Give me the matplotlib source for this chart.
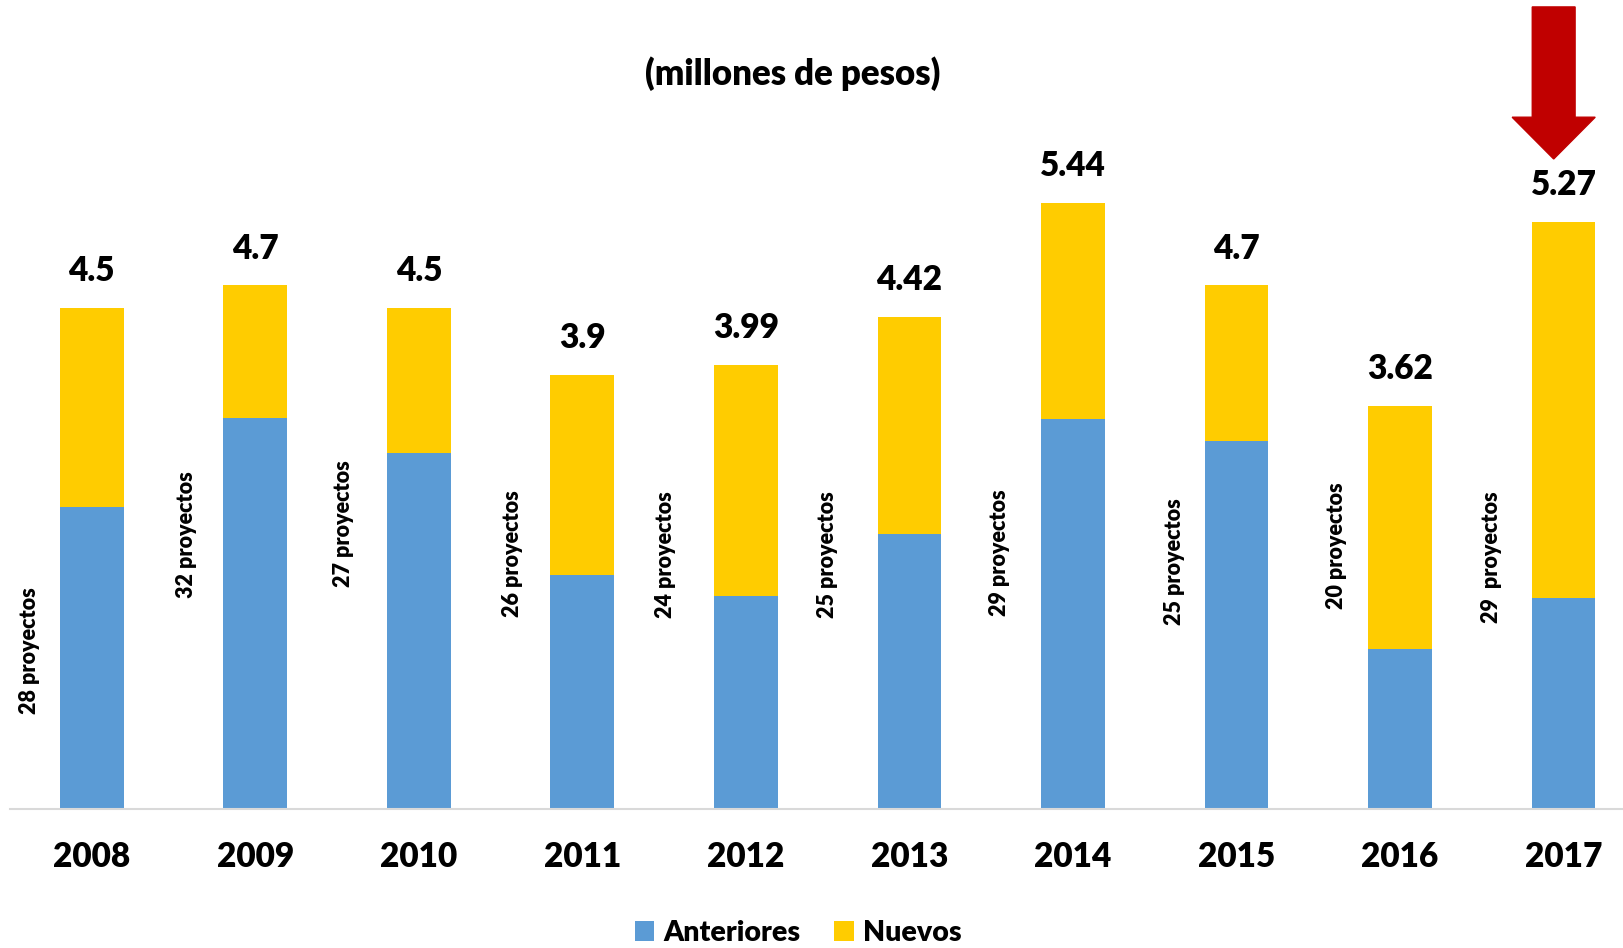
import matplotlib
matplotlib.use("Agg")
import matplotlib.pyplot as plt
from matplotlib.patches import Polygon

plt.rcParams['font.family'] = ['Lato', 'DejaVu Sans']
plt.rcParams['font.weight'] = 'heavy'

# data
years = ['2008', '2009', '2010', '2011', '2012', '2013', '2014', '2015', '2016', '2017']
anteriores = [2.71, 3.51, 3.20, 2.10, 1.91, 2.47, 3.50, 3.30, 1.44, 1.89]
totales = [4.5, 4.7, 4.5, 3.9, 3.99, 4.42, 5.44, 4.7, 3.62, 5.27]
total_labels = ['4.5', '4.7', '4.5', '3.9', '3.99', '4.42', '5.44', '4.7', '3.62', '5.27']
nuevos = [t - a for t, a in zip(totales, anteriores)]
proyectos = ['28 proyectos', '32 proyectos', '27 proyectos', '26 proyectos', '24 proyectos',
             '25 proyectos', '29 proyectos', '25 proyectos', '20 proyectos', '29  proyectos']

# where the rotated labels sit (offset from bar centre, height)
lab_dx = [-0.38, -0.42, -0.46, -0.43, -0.49, -0.50, -0.45, -0.38, -0.39, -0.44]
lab_y = [1.42, 2.46, 2.56, 2.29, 2.28, 2.28, 2.30, 2.22, 2.36, 2.26]

blue = '#5B9BD5'
gold = '#FFCC00'
W = 'heavy'

fig = plt.figure(figsize=(16.24, 9.48), dpi=100)
ax = fig.add_axes([10 / 1624, 1 - 809 / 948, 1 - 10 / 1624, 809 / 948])

x = list(range(len(years)))
ax.bar(x, anteriores, width=0.39, color=blue, label='Anteriores')
ax.bar(x, nuevos, width=0.39, bottom=anteriores, color=gold, label='Nuevos')

for i in x:
    ax.text(i, totales[i] + 0.33, total_labels[i], ha='center', va='center',
            fontsize=24, fontweight=W)
    ax.text(i + lab_dx[i], lab_y[i], proyectos[i], rotation=90, ha='center', va='center',
            fontsize=15.5, fontweight=W)

ax.set_xlim(-0.5, 9.37)
ax.set_ylim(0, 809 / 111.4)
ax.set_xticks(x)
ax.set_xticklabels(years, fontsize=24, fontweight=W)
ax.tick_params(axis='x', length=0, pad=23)
ax.set_yticks([])
for s in ['top', 'right', 'left']:
    ax.spines[s].set_visible(False)
ax.spines['bottom'].set_color('#D9D9D9')
ax.spines['bottom'].set_linewidth(1.5)

# red arrow over 2017
cx, tip, head, top = 8.94, 5.835, 6.21, 7.2
sw, hw = 0.131, 0.254
arrow = Polygon([[cx - sw, top], [cx + sw, top], [cx + sw, head], [cx + hw, head],
                 [cx, tip], [cx - hw, head], [cx - sw, head]],
                closed=True, facecolor='#C00000', edgecolor='#C00000', clip_on=False)
ax.add_patch(arrow)

fig.text(793 / 1624, 1 - 74 / 948, '(millones de pesos)', ha='center', va='center',
         fontsize=25, fontweight=W)

fig.legend(loc='center', bbox_to_anchor=(798 / 1624, 1 - 933 / 948), ncol=2, frameon=False,
           handlelength=0.7, handleheight=0.7, handletextpad=0.3,
           columnspacing=1.2, prop={'weight': W, 'size': 20.5})

fig.savefig('out.png', dpi=100)
